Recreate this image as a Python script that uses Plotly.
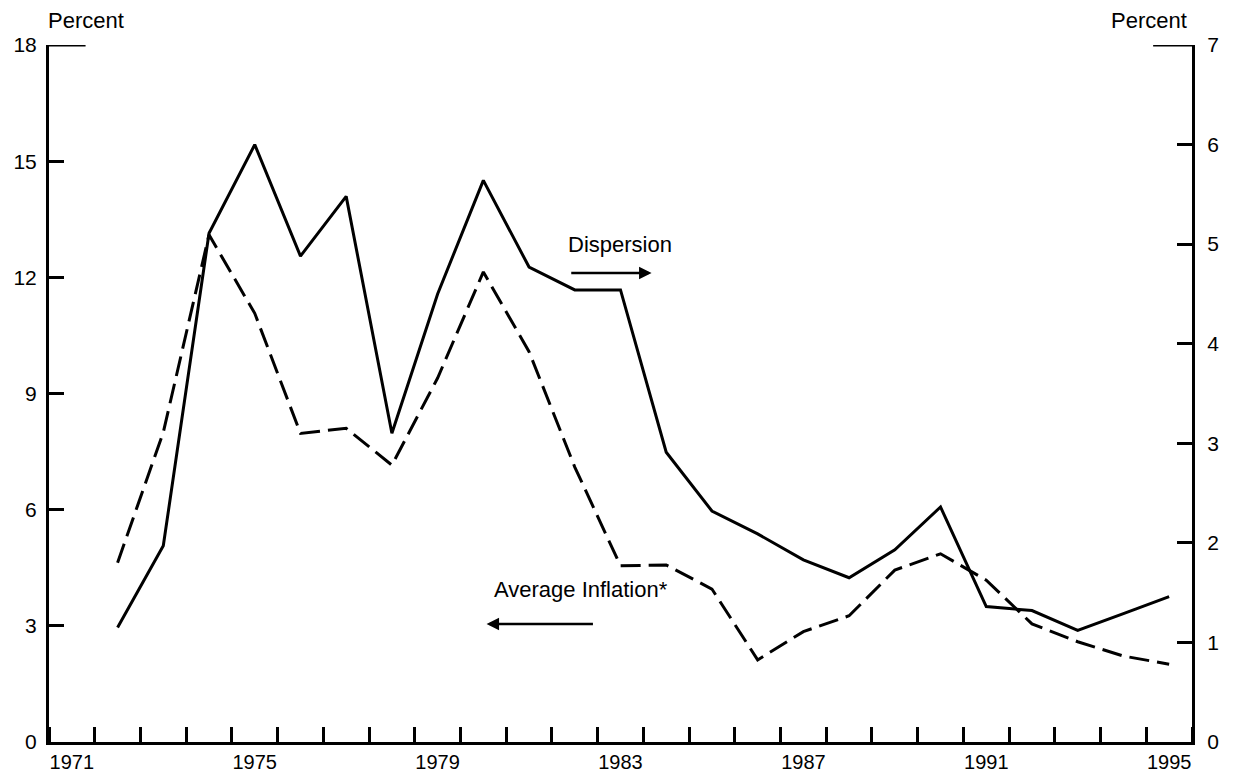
import plotly.graph_objects as go

years = list(range(1972, 1996))
dispersion = [1.15, 1.97, 5.11, 6.00, 4.88, 5.48, 3.10, 4.50, 5.64, 4.77, 4.54, 4.54,
              2.91, 2.32, 2.09, 1.83, 1.65, 1.93, 2.36, 1.36, 1.32, 1.12, 1.29, 1.46]
inflation = [4.63, 8.0, 13.1, 11.07, 7.97, 8.10, 7.15, 9.4, 12.14, 10.08, 7.1, 4.55,
             4.57, 3.95, 2.12, 2.85, 3.26, 4.44, 4.86, 4.18, 3.05, 2.59, 2.22, 2.01]
x_labels = [1971, 1975, 1979, 1983, 1987, 1991, 1995]
left_ticks = [0, 3, 6, 9, 12, 15, 18]
right_ticks = [0, 1, 2, 3, 4, 5, 6, 7]

FONT = "Liberation Sans, Arial, Helvetica, sans-serif"

fig = go.Figure()
fig.add_trace(go.Scatter(x=years, y=inflation, mode="lines", yaxis="y",
                         line=dict(color="black", width=3, dash="20px,8px"),
                         name="Average Inflation*", showlegend=False))
fig.add_trace(go.Scatter(x=years, y=dispersion, mode="lines", yaxis="y2",
                         line=dict(color="black", width=3),
                         name="Dispersion", showlegend=False))

# page body has an 8px margin, so the figure is sized to fit inside the window
fig.update_layout(
    width=1226, height=770,
    margin=dict(l=41, r=42, t=37, b=36),
    paper_bgcolor="white", plot_bgcolor="white",
    font=dict(family=FONT, size=21, color="black"),
    xaxis=dict(range=[1970.5, 1995.5], tickvals=x_labels, ticks="",
               showline=True, linecolor="black", linewidth=3, showgrid=False,
               zeroline=False, ticklabelstandoff=0, automargin=False,
               tickfont=dict(size=20),
               minor=dict(tick0=0.5, dtick=1, ticks="inside", ticklen=15,
                          tickwidth=3, tickcolor="black", showgrid=False)),
    yaxis=dict(range=[0, 18], tickvals=left_ticks, ticks="inside", ticklen=15,
               tickwidth=3, tickcolor="black", showline=True, linecolor="black",
               linewidth=3, showgrid=False, zeroline=False, ticklabelstandoff=5,
               automargin=False),
    yaxis2=dict(range=[0, 7], tickvals=right_ticks, ticks="inside", ticklen=15,
                tickwidth=3, tickcolor="black", showline=True, linecolor="black",
                linewidth=3, showgrid=False, zeroline=False, side="right",
                overlaying="y", ticklabelstandoff=8, automargin=False),
)

# longer corner ticks at the top of both axes
fig.add_shape(type="line", xref="x domain", yref="y", x0=0, x1=0.032, y0=18, y1=18,
              line=dict(color="black", width=3))
fig.add_shape(type="line", xref="x domain", yref="y2", x0=0.966, x1=1, y0=7, y1=7,
              line=dict(color="black", width=3))

fig.add_annotation(text="Percent", xref="paper", yref="paper", x=0, y=1,
                   xanchor="left", yanchor="bottom", yshift=10, xshift=-3,
                   showarrow=False, font=dict(size=22))
fig.add_annotation(text="Percent", xref="paper", yref="paper", x=1, y=1,
                   xanchor="right", yanchor="bottom", yshift=10, xshift=-3,
                   showarrow=False, font=dict(size=22))

fig.add_annotation(text="Dispersion", xref="x", yref="y", x=1982.98, y=12.84,
                   showarrow=False, font=dict(size=22))
fig.add_annotation(text="", xref="x", yref="y", x=1983.68, y=12.11,
                   ax=1981.89, ay=12.11, axref="x", ayref="y",
                   showarrow=True, arrowhead=2, arrowsize=1, arrowwidth=2.5,
                   arrowcolor="black")
fig.add_annotation(text="Average Inflation*", xref="x", yref="y", x=1982.13, y=3.93,
                   showarrow=False, font=dict(size=22))
fig.add_annotation(text="", xref="x", yref="y", x=1980.07, y=3.05,
                   ax=1982.43, ay=3.05, axref="x", ayref="y",
                   showarrow=True, arrowhead=2, arrowsize=1, arrowwidth=2.5,
                   arrowcolor="black")

fig.write_html("out.html")
